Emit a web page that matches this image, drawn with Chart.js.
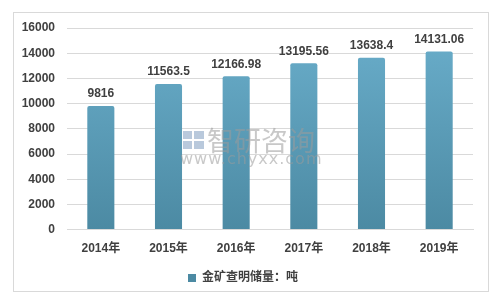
<!DOCTYPE html>
<html>
<head>
<meta charset="utf-8">
<script src="https://cdn.jsdelivr.net/npm/chart.js@4"></script>
<style>
  body { margin: 0; background: #fff; }
  #wrap { width: 500px; height: 303px; position: relative; }
</style>
</head>
<body>
<div id="wrap"><canvas id="myBarChart" width="500" height="303"></canvas></div>
<script>
var years = ["2014年", "2015年", "2016年", "2017年", "2018年", "2019年"];
var reserves = [9816, 11563.5, 12166.98, 13195.56, 13638.4, 14131.06];
var reserveLabels = ["9816", "11563.5", "12166.98", "13195.56", "13638.4", "14131.06"];
var seriesName = "金矿查明储量：吨";

var fontFamily = "'Liberation Sans', 'Noto Sans CJK SC', sans-serif";
var textColor = "#404040";

// outer frame + watermark
var framePlugin = {
    id: 'frame',
    beforeDraw: function(chart) {
        var ctx = chart.ctx;
        ctx.save();
        ctx.fillStyle = "#fff";
        ctx.fillRect(0, 0, chart.width, chart.height);
        ctx.strokeStyle = "#d9d9d9";
        ctx.lineWidth = 1;
        ctx.strokeRect(13.5, 12.5, 475, 279);
        ctx.restore();
    },
    afterDraw: function(chart) {
        var ctx = chart.ctx;
        ctx.save();
        ctx.globalAlpha = 0.55;
        ctx.fillStyle = "#7f9cc0";
        ctx.fillRect(183, 131, 9, 8);
        ctx.fillRect(194, 131, 10, 8);
        ctx.fillRect(183, 141, 9, 8);
        ctx.fillRect(194, 141, 10, 8);
        ctx.fillStyle = "#9a9a9a";
        ctx.font = "27px 'Noto Sans CJK SC'";
        ctx.textBaseline = "middle";
        ctx.fillText("智研咨询", 207, 141);
        ctx.font = "16px 'DejaVu Sans'";
        ctx.letterSpacing = "1px";
        ctx.fillText("www.chyxx.com", 180, 160);
        ctx.restore();
    }
};

// value labels above bars
var valueLabels = {
    id: 'valueLabels',
    afterDatasetsDraw: function(chart) {
        var ctx = chart.ctx;
        var meta = chart.getDatasetMeta(0);
        ctx.save();
        ctx.font = "bold 12px " + fontFamily;
        ctx.fillStyle = textColor;
        ctx.textAlign = "center";
        ctx.textBaseline = "bottom";
        meta.data.forEach(function(bar, i) {
            ctx.fillText(reserveLabels[i], bar.x, bar.y - 6);
        });
        ctx.restore();
    }
};

var ctx = document.getElementById("myBarChart");

var myBarChart = new Chart(ctx, {
    type: 'bar',
    data: {
        labels: years,
        datasets: [
            {
                label: seriesName,
                data: reserves,
                backgroundColor: function(c) {
                    var area = c.chart.chartArea;
                    if (!area) return "#5f9fbb";
                    var g = c.chart.ctx.createLinearGradient(0, area.top, 0, area.bottom);
                    g.addColorStop(0, "#6aaecb");
                    g.addColorStop(1, "#4c8aa3");
                    return g;
                },
                borderRadius: 2,
                barPercentage: 0.4,
                categoryPercentage: 1.0
            }]
    },
    options: {
        responsive: false,
        animation: false,
        devicePixelRatio: 1,
        layout: {
            padding: { left: 13, right: 27, top: 28, bottom: 9 }
        },
        plugins: {
            legend: {
                display: true,
                position: 'bottom',
                labels: {
                    boxWidth: 8,
                    boxHeight: 8,
                    padding: 12,
                    color: textColor,
                    font: { family: fontFamily, size: 12, weight: 'bold' }
                }
            },
            tooltip: { enabled: false }
        },
        scales: {
            x: {
                grid: { display: false },
                border: { color: "#d9d9d9" },
                ticks: {
                    color: textColor,
                    padding: 4,
                    font: { family: fontFamily, size: 12, weight: 'bold' }
                }
            },
            y: {
                min: 0,
                max: 16000,
                afterFit: function(scale) { scale.width = 54; },
                grid: { color: "#d9d9d9", drawTicks: false },
                border: { display: false },
                ticks: {
                    stepSize: 2000,
                    padding: 12,
                    color: textColor,
                    font: { family: fontFamily, size: 12, weight: 'bold' },
                    callback: function(v) { return String(v); }
                }
            }
        }
    },
    plugins: [framePlugin, valueLabels]
});
</script>
</body>
</html>
